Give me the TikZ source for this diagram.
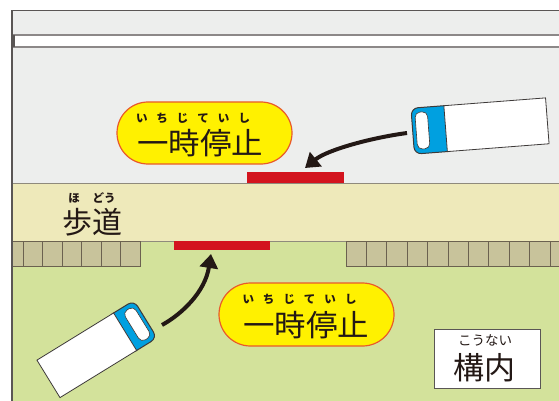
\documentclass[tikz,border=0pt]{standalone}
\usepackage{fontspec}
\newfontfamily\jp{Noto Sans CJK JP}
\usetikzlibrary{arrows.meta,shapes.misc}

\definecolor{roadgray}{HTML}{EDEEED}
\definecolor{edgegray}{HTML}{5A5655}
\definecolor{stripeedge}{HTML}{8C8888}
\definecolor{walkbeige}{HTML}{EEE9BA}
\definecolor{walkedge}{HTML}{8F8A7C}
\definecolor{groundgreen}{HTML}{D3E29B}
\definecolor{tilefill}{HTML}{C8C39B}
\definecolor{tileedge}{HTML}{6B6150}
\definecolor{stopred}{HTML}{D3141E}
\definecolor{signyellow}{HTML}{FFF100}
\definecolor{signedge}{HTML}{E95A2A}
\definecolor{cabblue}{HTML}{00A0E0}
\definecolor{inkdark}{HTML}{231815}
\definecolor{lorryedge}{HTML}{3E3A39}

\tikzset{
  border/.style={draw=edgegray, line width=1.5pt},
  stripeline/.style={draw=stripeedge, line width=1.3pt},
  walkline/.style={draw=walkedge, line width=1pt},
  paver/.style={fill=tilefill, draw=tileedge, line width=0.9pt},
  stopbar/.style={fill=stopred, inner sep=0pt, outer sep=0pt},
  bubble/.style={rounded rectangle, fill=signyellow, draw=signedge, line width=1.2pt,
    inner sep=0pt, minimum width=175pt, minimum height=62pt},
  kanji/.style={font=\jp\fontsize{30}{30}\selectfont, text=inkdark, inner sep=0pt},
  kana/.style={font=\jp\bfseries\fontsize{11.5}{11.5}\selectfont, text=inkdark, inner sep=0pt},
  labelbox/.style={fill=white, draw=edgegray, line width=1pt, minimum width=106pt,
    minimum height=59pt, inner sep=0pt},
  pointer/.style={draw=inkdark, line width=4pt,
    -{Triangle[length=14pt,width=18pt]}},
  lorrybody/.style={fill=white, draw=lorryedge, line width=0.8pt},
  lorrycab/.style={fill=cabblue, draw=lorryedge, line width=1pt, rounded corners=7pt},
  lorryglass/.style={fill=white, draw=lorryedge, line width=0.6pt, rounded corners=5pt},
  pics/lorry/.style n args={3}{code={
    % #1 length, #2 width, #3 cab length; the cab faces -x
    \path[lorrycab] ({-#1/2},{-#2/2}) rectangle ({-#1/2+#3+8},{#2/2});
    \path[lorrybody] ({-#1/2+#3},{-#2/2}) rectangle ({#1/2},{#2/2});
    \path[lorryglass] ({-#1/2+3.5},{-#2/2+4.5}) rectangle ({-#1/2+16},{#2/2-4.5});
  }}
}

\newcommand\kgap{\hspace{9pt}}

\begin{document}
\begin{tikzpicture}[x=1pt,y=-1pt]
\useasboundingbox (0,0) rectangle (559,401);
\clip (0,0) rectangle (559,401);

% roadway with its white lane stripe
\fill[roadgray] (12,10.7) rectangle (559,183);
\fill[white] (12,35) rectangle (559,47);
\draw[stripeline] (12,35) -- (559,35);
\draw[stripeline] (12,47) -- (559,47);
\fill[edgegray] (12,35) rectangle (15,47);

% sidewalk and premises ground
\fill[walkbeige] (12,183) rectangle (559,241);
\fill[groundgreen] (12,241) rectangle (559,401);
\draw[walkline] (12,183) -- (559,183);
\draw[walkline] (12,241) -- (559,241);

% paving blocks along the sidewalk edge
\draw[paver] (12,241) rectangle (23.3,266);
\foreach \i in {0,...,5}
  \draw[paver] ({23.3+19.5*\i},241) rectangle ({23.3+19.5*(\i+1)},266);
\foreach \i in {0,...,10}
  \draw[paver] ({346+20.4*\i},241) rectangle ({346+20.4*(\i+1)},266);

% outer frame
\draw[border] (12,401) -- (12,10.7) -- (559,10.7);

% stop lines
\node[stopbar, minimum width=97pt, minimum height=11pt] (barA) at (295.5,177.5) {};
\node[stopbar, minimum width=96pt, minimum height=9pt] (barB) at (222,245.5) {};

% stop signs
\node[bubble] (bubA) at (204.5,133) {};
\node[kana] (rubA) at (193,118) {い\kgap ち\kgap じ\kgap て\kgap い\kgap し};
\node[kanji] (txtA) at (200,143) {\scalebox{1.05}[1]{一時停止}};

\node[bubble, minimum height=63pt] (bubB) at (306.5,314.5) {};
\node[kana] (rubB) at (299.5,299) {い\kgap ち\kgap じ\kgap て\kgap い\kgap し};
\node[kanji] (txtB) at (306,325) {\scalebox{1.05}[1]{一時停止}};

% sidewalk label
\node[kana] (rubW) at (92,198) {ほ\hspace{13pt}どう};
\node[kanji] (txtW) at (92,222) {歩道};

% premises label
\node[labelbox] (boxP) at (487,358.5) {};
\node[kana, font=\jp\fontsize{13.5}{13.5}\selectfont] (rubP) at (485,340) {こうない};
\node[kanji, font=\jp\fontsize{31}{31}\selectfont] (txtP) at (484,368) {構内};

% lorries
\pic[rotate=4.4] at (480,126) {lorry={135}{46}{33}};
\pic[rotate=-148.4] at (97,349) {lorry={114}{44}{24}};

% movement arrows
\coordinate (startA) at (407,133);
\coordinate (startB) at (162,325);
\draw[pointer] (startA) .. controls (370,138) and (327,150) .. ([xshift=9.5pt,yshift=4pt]barA.north);
\draw[pointer] (startB) .. controls (182,314) and (205,292) .. ([xshift=-11pt,yshift=-4pt]barB.south);
\end{tikzpicture}
\end{document}
